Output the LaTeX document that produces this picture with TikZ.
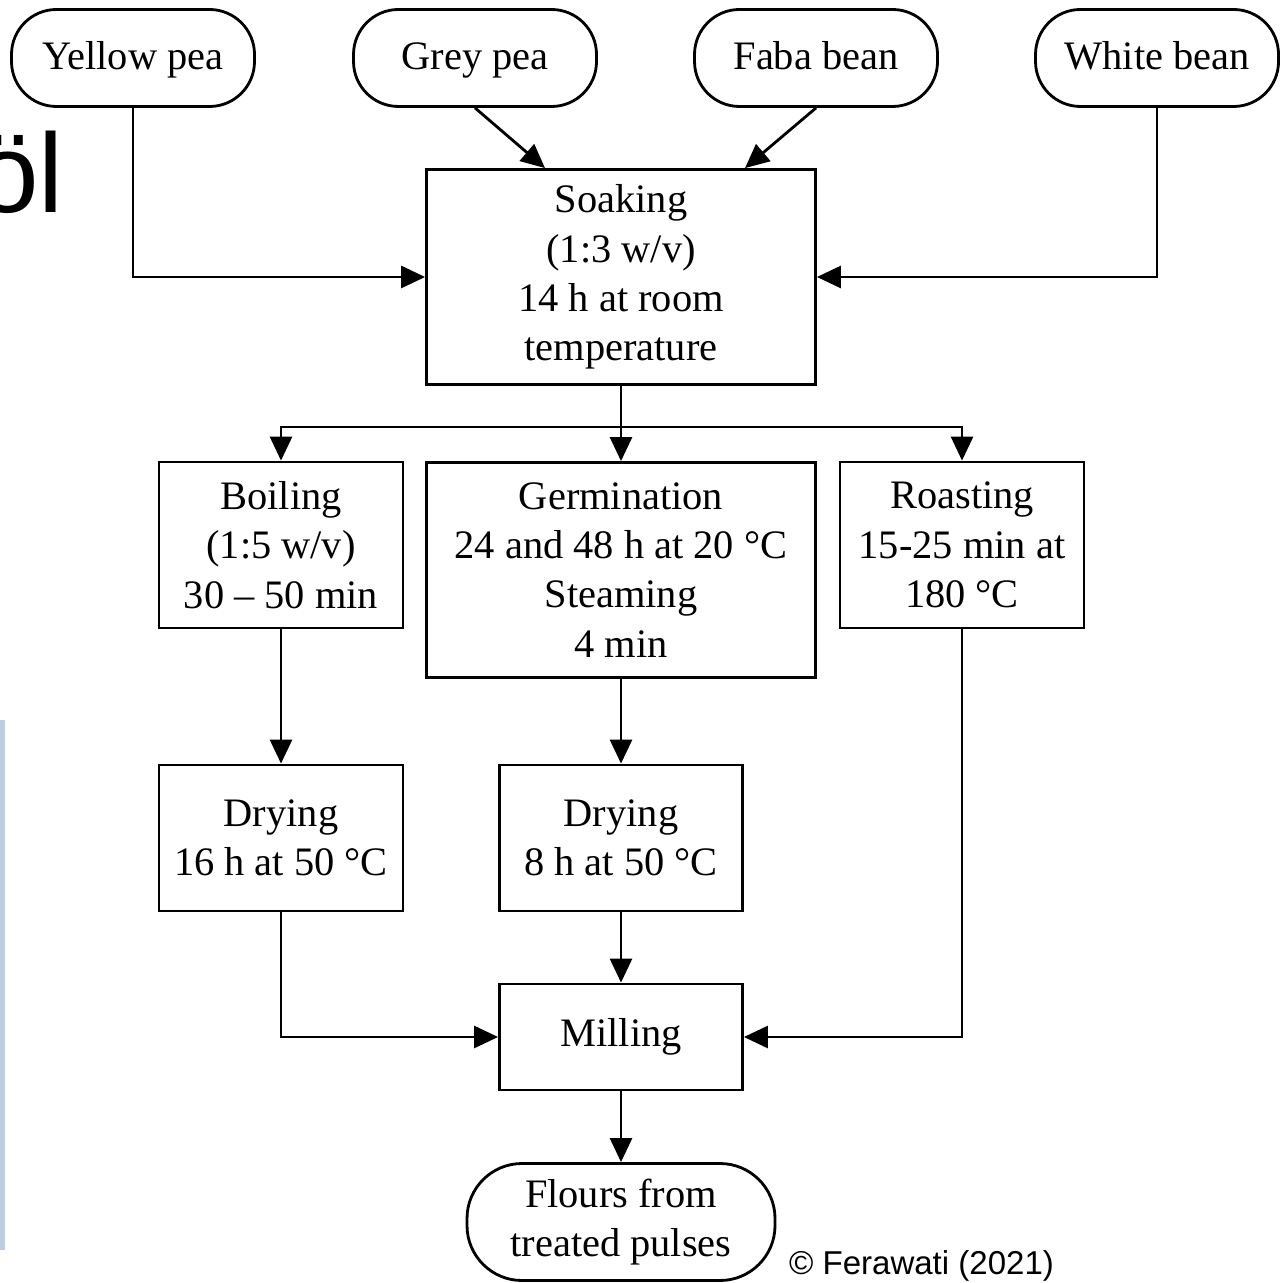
\documentclass[tikz,border=0pt]{standalone}
\usepackage{fontspec}
\setmainfont{Liberation Serif}
\newfontfamily\sansfont{Liberation Sans}
\usepackage{xcolor}
\usepackage{tikz}
\usetikzlibrary{shapes.geometric, arrows.meta}
\definecolor{barblue}{RGB}{190,205,230}
\tikzstyle{startstop} = [rectangle, rounded corners=0.45cm, minimum width=2.43cm, minimum height=0.97cm, text centered, align=center, draw=black, line width=0.8pt, font=\fontsize{11.5}{14}\selectfont]
\tikzstyle{pulse} = [startstop, text height=0.85em, text depth=0.22em]
\tikzstyle{process} = [rectangle, minimum width=2.44cm, text centered, align=center, draw=black, line width=0.8pt, font=\fontsize{11.5}{14}\selectfont]
\tikzstyle{arrow} = [line width=0.8pt, -{Triangle[length=0.24cm, width=0.22cm]}]

\begin{document}
\begin{tikzpicture}[node distance=2.93cm]
   \useasboundingbox (0,0) rectangle (12.81,-12.83);

   % background leftovers
   \fill [barblue] (0,-7.2) rectangle (0.05,-12.5);
   \node (bgtext) [anchor=base east, inner sep=0pt, font=\sansfont\fontsize{32}{36}\selectfont] at (0.645,-2.13) {öl};

   % raw pulses
   \node (yellow) [pulse] at (1.33,-0.58) {Yellow pea};
   \node (grey) [pulse, right of=yellow, node distance=3.42cm] {Grey pea};
   \node (faba) [pulse, right of=grey, node distance=3.41cm] {Faba bean};
   \node (white) [pulse, right of=faba, node distance=3.41cm] {White bean};

   \node (soak) [process, minimum width=3.89cm, minimum height=2.15cm] at (6.21,-2.77) {Soaking\\(1:3 w/v)\\14 h at room\\temperature};

   % treatments
   \node (germ) [process, below of=soak, minimum width=3.89cm, minimum height=2.15cm] {Germination\\24 and 48 h at 20 °C\\Steaming\\4 min};
   \node (boil) [process, below of=soak, xshift=-3.4cm, yshift=0.25cm, minimum height=1.66cm] {Boiling\\(1:5 w/v)\\30 -- 50 min};
   \node (roast) [process, below of=soak, xshift=3.41cm, yshift=0.25cm, minimum height=1.66cm] {Roasting\\15-25 min at\\180 °C};

   \node (dry1) [process, below of=boil, minimum height=1.46cm] {Drying\\16 h at 50 °C};
   \node (dry2) [process, below of=germ, yshift=0.25cm, minimum width=2.43cm, minimum height=1.46cm] {Drying\\8 h at 50 °C};

   \node (mill) [process, below of=dry2, node distance=1.99cm, minimum width=2.43cm, minimum height=1.06cm] {Milling};
   \node (flour) [startstop, below of=mill, node distance=1.85cm, rounded corners=0.55cm, minimum width=3.08cm, minimum height=1.17cm] {Flours from\\treated pulses};

   \node (copy) [inner sep=0pt, font=\sansfont\fontsize{9.4}{11}\selectfont] at (9.215,-12.66) {© Ferawati (2021)};

   \coordinate (split) at ([yshift=-1.5cm]soak.center);

   \draw [arrow] (yellow) |- (soak);
   \draw [arrow] (white) |- (soak);
   \draw [arrow] (grey.south) -- ([xshift=-0.76cm]soak.north);
   \draw [arrow] (faba.south) -- ([xshift=1.24cm]soak.north);
   \draw [arrow] (soak) -- (germ);
   \draw [arrow] (split) -| (boil);
   \draw [arrow] (split) -| (roast);
   \draw [arrow] (boil) -- (dry1);
   \draw [arrow] (germ) -- (dry2);
   \draw [arrow] (dry2) -- (mill);
   \draw [arrow] (dry1) |- (mill);
   \draw [arrow] (roast) |- (mill);
   \draw [arrow] (mill) -- (flour);
\end{tikzpicture}
\end{document}
